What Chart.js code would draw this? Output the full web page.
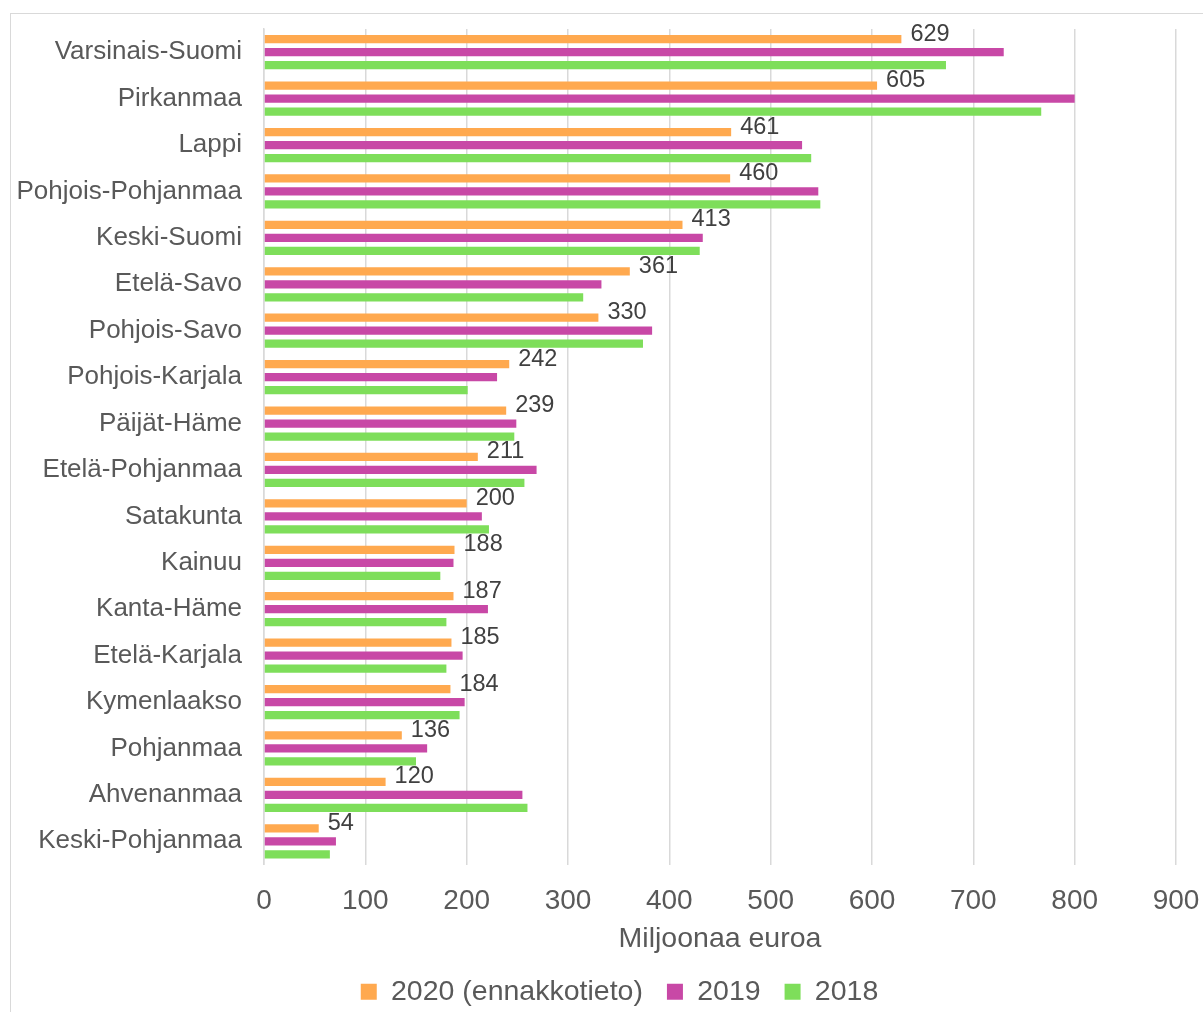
<!DOCTYPE html>
<html>
<head>
<meta charset="utf-8">
<script src="https://cdn.jsdelivr.net/npm/chart.js@4"></script>
<style>
    html, body { margin: 0; padding: 0; background: #fff; overflow: hidden; }
    #wrap { position: relative; width: 1203px; height: 1012px; }
    #frame {
        position: absolute; left: 10px; top: 13px; width: 1300px; height: 1100px;
        border: 1px solid #d9d9d9; box-sizing: border-box;
    }
    canvas { position: absolute; left: 0; top: 0; }
</style>
</head>
<body>
<div id="wrap">
    <div id="frame"></div>
    <canvas id="regionChart" width="1203" height="1012"></canvas>
</div>
<script>
// Regions, top to bottom
const regions = [
    "Varsinais-Suomi", "Pirkanmaa", "Lappi", "Pohjois-Pohjanmaa", "Keski-Suomi",
    "Etelä-Savo", "Pohjois-Savo", "Pohjois-Karjala", "Päijät-Häme", "Etelä-Pohjanmaa",
    "Satakunta", "Kainuu", "Kanta-Häme", "Etelä-Karjala", "Kymenlaakso",
    "Pohjanmaa", "Ahvenanmaa", "Keski-Pohjanmaa",
];

// Miljoonaa euroa
const values2020 = [629, 605, 461, 460, 413, 361, 330, 242, 239, 211, 200, 188, 187, 185, 184, 136, 120, 54];
const values2019 = [730, 800, 531, 547, 433, 333, 383, 230, 249, 269, 215, 187, 221, 196, 198, 161, 255, 71];
const values2018 = [673, 767, 540, 549, 430, 315, 374, 201, 247, 257, 222, 174, 180, 180, 193, 150, 260, 65];

const xTicks = [0, 100, 200, 300, 400, 500, 600, 700, 800, 900];

const FONT = "'Liberation Sans', Arial, sans-serif";

// Value labels at the end of the 2020 bars
const endLabels = {
    id: "endLabels",
    afterDatasetsDraw(chart) {
        const ctx = chart.ctx;
        const meta = chart.getDatasetMeta(0);
        ctx.save();
        ctx.font = "23.5px " + FONT;
        ctx.fillStyle = "#404040";
        ctx.textAlign = "left";
        ctx.textBaseline = "middle";
        meta.data.forEach((bar, i) => {
            ctx.fillText(String(values2020[i]), bar.x + 9, bar.y - 5);
        });
        ctx.restore();
    },
};

// legend sits a bit off-centre in the original, shift its box
const legendShift = {
    id: "legendShift",
    afterLayout(chart) {
        const lg = chart.legend;
        lg.left = 63;
        lg.width = lg.right - lg.left;
    },
};

const canvas = document.getElementById("regionChart");

new Chart(canvas, {
    type: "bar",
    data: {
        labels: regions,
        datasets: [
            {
                label: "2020 (ennakkotieto)",
                data: values2020,
                backgroundColor: "#ffa94f",
            },
            {
                label: "2019",
                data: values2019,
                backgroundColor: "#c848a6",
            },
            {
                label: "2018",
                data: values2018,
                backgroundColor: "#7ede5a",
            },
        ],
    },
    options: {
        indexAxis: "y",
        responsive: false,
        animation: false,
        maintainAspectRatio: false,
        categoryPercentage: 0.84,
        barPercentage: 0.64,
        layout: {
            padding: { left: 0, right: 27, top: 29, bottom: -4 },
        },
        scales: {
            x: {
                min: 0,
                max: 900,
                afterBuildTicks: (scale) => {
                    scale.ticks = xTicks.map((v) => ({ value: v }));
                },
                afterFit: (scale) => {
                    scale.height = 89;
                    scale.paddingLeft = 0;
                    scale.paddingRight = 0;
                },
                grid: {
                    color: "#d9d9d9",
                    lineWidth: 1.5,
                    drawTicks: false,
                },
                border: { display: false },
                ticks: {
                    padding: 20,
                    color: "#595959",
                    font: { family: FONT, size: 28 },
                },
                title: {
                    display: true,
                    text: "Miljoonaa euroa",
                    color: "#595959",
                    font: { family: FONT, size: 28.5 },
                    padding: { top: 0, bottom: -3 },
                },
            },
            y: {
                grid: { display: false, drawTicks: false },
                border: { display: true, color: "#d9d9d9", width: 1.5 },
                ticks: {
                    padding: 22,
                    color: "#595959",
                    font: { family: FONT, size: 26 },
                },
                afterFit: (scale) => {
                    scale.width = 264;
                    scale.paddingTop = 0;
                    scale.paddingBottom = 0;
                },
            },
        },
        plugins: {
            legend: {
                position: "bottom",
                labels: {
                    boxWidth: 16,
                    boxHeight: 16,
                    padding: 24,
                    color: "#595959",
                    font: { family: FONT, size: 28.5 },
                },
            },
            tooltip: { enabled: false },
        },
    },
    plugins: [endLabels, legendShift],
});
</script>
</body>
</html>
